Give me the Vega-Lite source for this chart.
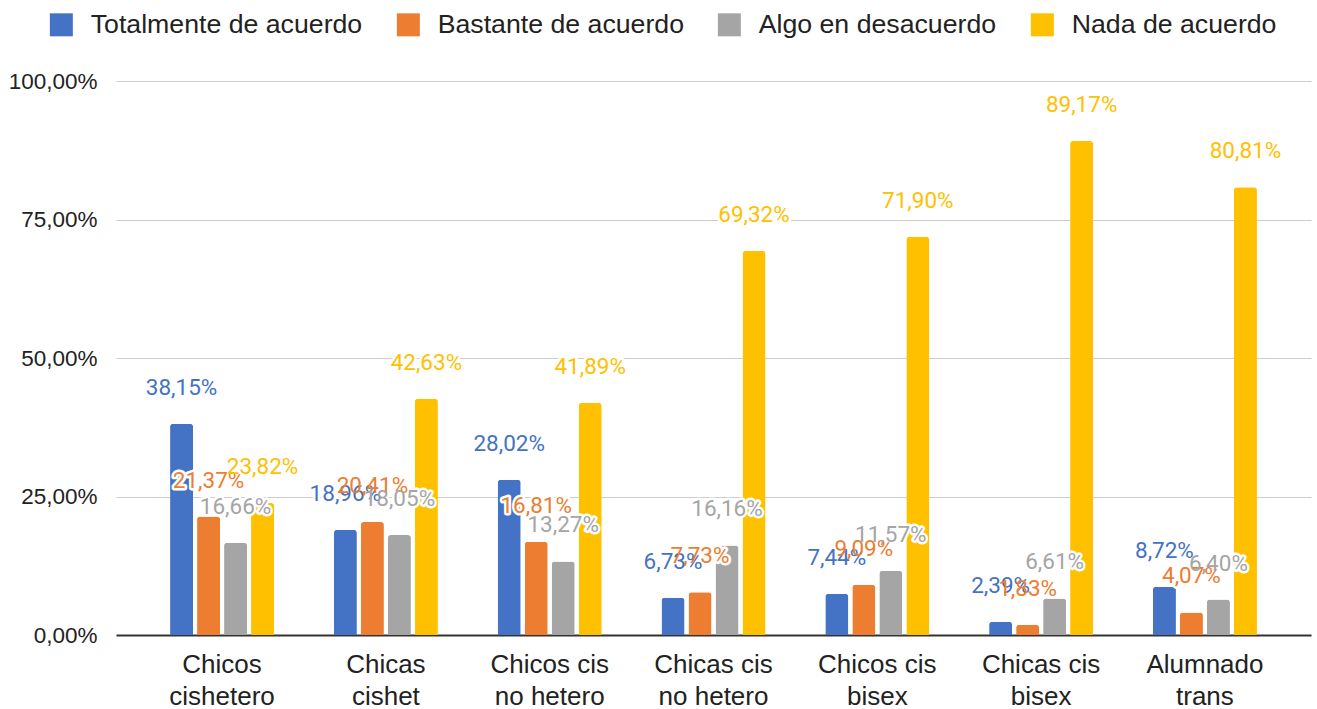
{
  "$schema": "https://vega.github.io/schema/vega-lite/v6.json",
  "width": 1193,
  "height": 554,
  "autosize": "none",
  "padding": {"left": 112, "top": 81, "right": 12, "bottom": 74},
  "config": {
    "locale": {"number": {"decimal": ",", "thousands": ".", "grouping": [3], "currency": ["", " €"]}},
    "font": "Liberation Sans",
    "view": {"stroke": null}
  },
  "data": {"values": [
    {"grupo": "Chicos\ncishetero", "respuesta": "Totalmente de acuerdo", "valor": 0.3815},
    {"grupo": "Chicos\ncishetero", "respuesta": "Bastante de acuerdo", "valor": 0.2137},
    {"grupo": "Chicos\ncishetero", "respuesta": "Algo en desacuerdo", "valor": 0.1666},
    {"grupo": "Chicos\ncishetero", "respuesta": "Nada de acuerdo", "valor": 0.2382},
    {"grupo": "Chicas\ncishet", "respuesta": "Totalmente de acuerdo", "valor": 0.1896},
    {"grupo": "Chicas\ncishet", "respuesta": "Bastante de acuerdo", "valor": 0.2041},
    {"grupo": "Chicas\ncishet", "respuesta": "Algo en desacuerdo", "valor": 0.1805},
    {"grupo": "Chicas\ncishet", "respuesta": "Nada de acuerdo", "valor": 0.4263},
    {"grupo": "Chicos cis\nno hetero", "respuesta": "Totalmente de acuerdo", "valor": 0.2802},
    {"grupo": "Chicos cis\nno hetero", "respuesta": "Bastante de acuerdo", "valor": 0.1681},
    {"grupo": "Chicos cis\nno hetero", "respuesta": "Algo en desacuerdo", "valor": 0.1327},
    {"grupo": "Chicos cis\nno hetero", "respuesta": "Nada de acuerdo", "valor": 0.4189},
    {"grupo": "Chicas cis\nno hetero", "respuesta": "Totalmente de acuerdo", "valor": 0.0673},
    {"grupo": "Chicas cis\nno hetero", "respuesta": "Bastante de acuerdo", "valor": 0.0773},
    {"grupo": "Chicas cis\nno hetero", "respuesta": "Algo en desacuerdo", "valor": 0.1616},
    {"grupo": "Chicas cis\nno hetero", "respuesta": "Nada de acuerdo", "valor": 0.6932},
    {"grupo": "Chicos cis\nbisex", "respuesta": "Totalmente de acuerdo", "valor": 0.0744},
    {"grupo": "Chicos cis\nbisex", "respuesta": "Bastante de acuerdo", "valor": 0.0909},
    {"grupo": "Chicos cis\nbisex", "respuesta": "Algo en desacuerdo", "valor": 0.1157},
    {"grupo": "Chicos cis\nbisex", "respuesta": "Nada de acuerdo", "valor": 0.7190},
    {"grupo": "Chicas cis\nbisex", "respuesta": "Totalmente de acuerdo", "valor": 0.0239},
    {"grupo": "Chicas cis\nbisex", "respuesta": "Bastante de acuerdo", "valor": 0.0183},
    {"grupo": "Chicas cis\nbisex", "respuesta": "Algo en desacuerdo", "valor": 0.0661},
    {"grupo": "Chicas cis\nbisex", "respuesta": "Nada de acuerdo", "valor": 0.8917},
    {"grupo": "Alumnado\ntrans", "respuesta": "Totalmente de acuerdo", "valor": 0.0872},
    {"grupo": "Alumnado\ntrans", "respuesta": "Bastante de acuerdo", "valor": 0.0407},
    {"grupo": "Alumnado\ntrans", "respuesta": "Algo en desacuerdo", "valor": 0.0640},
    {"grupo": "Alumnado\ntrans", "respuesta": "Nada de acuerdo", "valor": 0.8081}
  ]},
  "encoding": {
    "x": {
      "field": "grupo", "type": "nominal",
      "sort": ["Chicos\ncishetero", "Chicas\ncishet", "Chicos cis\nno hetero", "Chicas cis\nno hetero", "Chicos cis\nbisex", "Chicas cis\nbisex", "Alumnado\ntrans"],
      "scale": {"paddingInner": 0.365, "paddingOuter": 0.33, "range": [4, 1199]},
      "axis": {"title": null, "labelAngle": 0, "labelExpr": "split(datum.label, '\\n')", "labelFontSize": 26, "labelColor": "#222222", "labelLineHeight": 32, "labelPadding": 16, "ticks": false, "domain": true, "domainColor": "#333333", "domainWidth": 2, "grid": false}
    },
    "xOffset": {
      "field": "respuesta", "type": "nominal",
      "sort": ["Totalmente de acuerdo", "Bastante de acuerdo", "Algo en desacuerdo", "Nada de acuerdo"],
      "scale": {"paddingInner": 0.148, "paddingOuter": 0}
    },
    "y": {
      "field": "valor", "type": "quantitative",
      "scale": {"domain": [0, 1]},
      "axis": {"title": null, "values": [0, 0.25, 0.5, 0.75, 1], "format": ".2%", "labelFontSize": 22.5, "labelColor": "#222222", "labelPadding": 15, "ticks": false, "domain": false, "grid": true, "gridColor": "#cccccc", "gridWidth": 1.2}
    },
    "color": {
      "field": "respuesta", "type": "nominal",
      "sort": ["Totalmente de acuerdo", "Bastante de acuerdo", "Algo en desacuerdo", "Nada de acuerdo"],
      "scale": {"domain": ["Totalmente de acuerdo", "Bastante de acuerdo", "Algo en desacuerdo", "Nada de acuerdo"], "range": ["#4472C4", "#ED7D31", "#A5A5A5", "#FFC000"]},
      "legend": {"title": null, "orient": "none", "direction": "horizontal", "legendX": -64, "legendY": -70, "symbolType": "square", "symbolSize": 529, "symbolStrokeWidth": 0, "labelFontSize": 26.7, "labelColor": "#222222", "labelOffset": 16, "columnPadding": 32, "labelLimit": 400}
    }
  },
  "layer": [
    {"mark": {"type": "bar", "cornerRadiusTopLeft": 3, "cornerRadiusTopRight": 3}},
    {"mark": {"type": "text", "font": "Roboto", "dy": -36, "fontSize": 22.5, "stroke": "white", "strokeWidth": 5, "strokeJoin": "round", "baseline": "middle"},
     "encoding": {"text": {"field": "valor", "type": "quantitative", "format": ".2%"}}},
    {"mark": {"type": "text", "font": "Roboto", "dy": -36, "fontSize": 22.5, "baseline": "middle"},
     "encoding": {"text": {"field": "valor", "type": "quantitative", "format": ".2%"}}}
  ]
}
